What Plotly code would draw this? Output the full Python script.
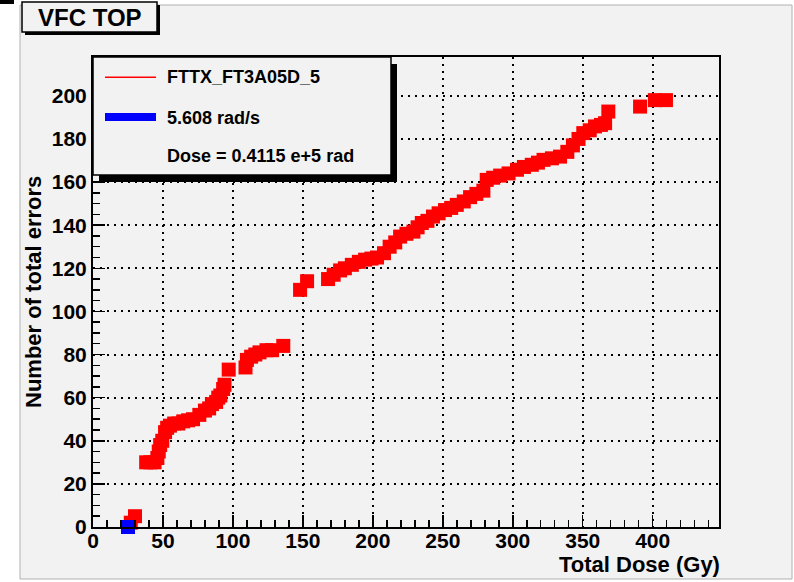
import plotly.graph_objects as go

# ---------------- data ----------------
dose_red = [27, 30, 38, 41, 44, 46, 47, 48, 49.5, 51.5, 53, 55, 58, 61, 64.5, 68, 71.5,
            76, 80, 83, 85, 88, 89.5, 91, 93, 94, 97, 109, 110, 113, 116, 119, 124, 128,
            136, 148, 153, 168, 172, 176.6, 180, 185, 190, 194.5, 199, 203, 208, 212,
            216, 219.5, 224, 229, 232, 235, 239, 243, 247, 251.6, 256, 260, 265, 269.5,
            274, 279, 281.4, 286, 291, 297, 303, 308, 313.6, 318, 322, 328, 333.8, 339,
            343, 347, 350.4, 355, 358.8, 363, 366, 368.3, 391, 401.6, 409.5]
errors_red = [2, 5, 30, 30, 30, 32, 35, 38, 40, 44, 46, 47, 48, 48, 49, 49.5, 50,
              52, 54, 55, 57, 58, 60, 61, 64, 66, 73, 74, 77.5, 79, 80, 81, 82, 82,
              84, 110, 114, 115, 117, 119, 120, 121.6, 123, 124, 124.5, 125, 127, 130,
              132, 134.7, 136, 137, 139, 141, 142, 144, 145.5, 147, 148, 149.4, 151, 153,
              154.5, 156, 161, 162, 163, 164, 165.7, 167, 168, 169, 170.3, 171, 171.8, 174,
              177, 180, 182.7, 184, 185.8, 186.5, 187.3, 192.7, 195, 198, 198]
dose_blue = [25]
errors_blue = [0]

x_ticks = [0, 50, 100, 150, 200, 250, 300, 350, 400]
y_ticks = [0, 20, 40, 60, 80, 100, 120, 140, 160, 180, 200]

title_text = "VFC TOP"
legend_texts = ["FTTX_FT3A05D_5", "5.608 rad/s", "Dose = 0.4115 e+5 rad"]
x_title = "Total Dose (Gy)"
y_title = "Number of total errors"

# ---------------- geometry ----------------
W, H = 794, 582
L, R, T, B = 93, 719, 57, 527
PW, PH = R - L, B - T
BG = "#f2f2f2"
FONT = "Liberation Sans, Arial, Helvetica, sans-serif"


def px(x):
    return (x - L) / PW


def py(y):
    return (B - y) / PH


fig = go.Figure()
fig.add_trace(go.Scatter(x=dose_red, y=errors_red, mode="markers",
                         marker=dict(symbol="square", size=14, color="#ff0000",
                                     line=dict(width=0)),
                         cliponaxis=False, showlegend=False, hoverinfo="skip"))
fig.add_trace(go.Scatter(x=dose_blue, y=errors_blue, mode="markers",
                         marker=dict(symbol="square", size=14, color="#0000ff",
                                     line=dict(width=0)),
                         cliponaxis=False, showlegend=False, hoverinfo="skip"))

shapes = []
# canvas gray area
shapes.append(dict(type="rect", xref="paper", yref="paper", layer="below",
                   x0=px(20), x1=px(792), y0=py(5), y1=py(579),
                   fillcolor=BG, line=dict(color="#b0b0b0", width=1)))
# corner artifact
shapes.append(dict(type="rect", xref="paper", yref="paper", layer="above",
                   x0=px(0), x1=px(14), y0=py(0), y1=py(4),
                   fillcolor="black", line=dict(width=0)))
# title box shadow and box
shapes.append(dict(type="rect", xref="paper", yref="paper", layer="above",
                   x0=px(25), x1=px(160), y0=py(5), y1=py(35),
                   fillcolor="black", line=dict(width=0)))
shapes.append(dict(type="rect", xref="paper", yref="paper", layer="above",
                   x0=px(22), x1=px(157), y0=py(2), y1=py(32),
                   fillcolor=BG, line=dict(color="black", width=1.5)))
# legend shadow and box
shapes.append(dict(type="rect", xref="paper", yref="paper", layer="above",
                   x0=px(99), x1=px(397), y0=py(64), y1=py(182),
                   fillcolor="black", line=dict(width=0)))
shapes.append(dict(type="rect", xref="paper", yref="paper", layer="above",
                   x0=px(93), x1=px(391), y0=py(57), y1=py(175),
                   fillcolor=BG, line=dict(color="black", width=1.5)))
# legend symbols
shapes.append(dict(type="rect", xref="paper", yref="paper", layer="above",
                   x0=px(105), x1=px(156), y0=py(76.5), y1=py(78),
                   fillcolor="#ff0000", line=dict(width=0)))
shapes.append(dict(type="rect", xref="paper", yref="paper", layer="above",
                   x0=px(105), x1=px(156), y0=py(113), y1=py(121),
                   fillcolor="#0000ff", line=dict(width=0)))

annotations = []
annotations.append(dict(text=title_text, xref="paper", yref="paper", x=px(89.5), y=py(17),
                        xanchor="center", yanchor="middle", showarrow=False,
                        font=dict(family=FONT, size=24, color="black", weight="bold")))
for txt, yy in zip(legend_texts, [77.5, 117.5, 155.5]):
    annotations.append(dict(text=txt, xref="paper", yref="paper", x=px(165), y=py(yy),
                            xanchor="left", yanchor="middle", showarrow=False,
                            font=dict(family=FONT, size=18, color="black", weight="bold")))
annotations.append(dict(text=x_title, xref="paper", yref="paper", x=px(722), y=py(564),
                        xanchor="right", yanchor="middle", showarrow=False,
                        font=dict(family=FONT, size=22, color="black", weight="bold")))
annotations.append(dict(text=y_title, xref="paper", yref="paper", x=px(33), y=py(292),
                        xanchor="center", yanchor="middle", showarrow=False, textangle=-90,
                        font=dict(family=FONT, size=22, color="black", weight="bold")))

axis_common = dict(
    showline=True, linecolor="black", linewidth=2, mirror=True,
    ticks="inside", ticklen=12, tickwidth=1.5, tickcolor="black",
    showgrid=True, gridcolor="black", gridwidth=2, griddash="2px,5px",
    zeroline=False,
    tickfont=dict(family=FONT, size=21, color="black", weight="bold"),
)

fig.update_layout(
    width=W, height=H,
    margin=dict(l=L, r=W - R, t=T, b=H - B, pad=0),
    paper_bgcolor="white", plot_bgcolor=BG,
    showlegend=False, hovermode=False,
    shapes=shapes, annotations=annotations,
    xaxis=dict(range=[0, 447.4], tickmode="array", tickvals=x_ticks,
               ticktext=[str(v) for v in x_ticks], ticklabelstandoff=-6,
               minor=dict(dtick=10, ticks="inside", ticklen=7, tickwidth=1.5,
                          tickcolor="black", showgrid=False),
               **axis_common),
    yaxis=dict(range=[0, 218], tickmode="array", tickvals=y_ticks,
               ticktext=[str(v) for v in y_ticks],
               minor=dict(dtick=5, ticks="inside", ticklen=7, tickwidth=1.5,
                          tickcolor="black", showgrid=False),
               **axis_common),
)

fig.write_html("out.html",
               config={"displayModeBar": False, "staticPlot": True},
               post_script="document.body.style.margin='0px';document.body.style.overflow='hidden';")
